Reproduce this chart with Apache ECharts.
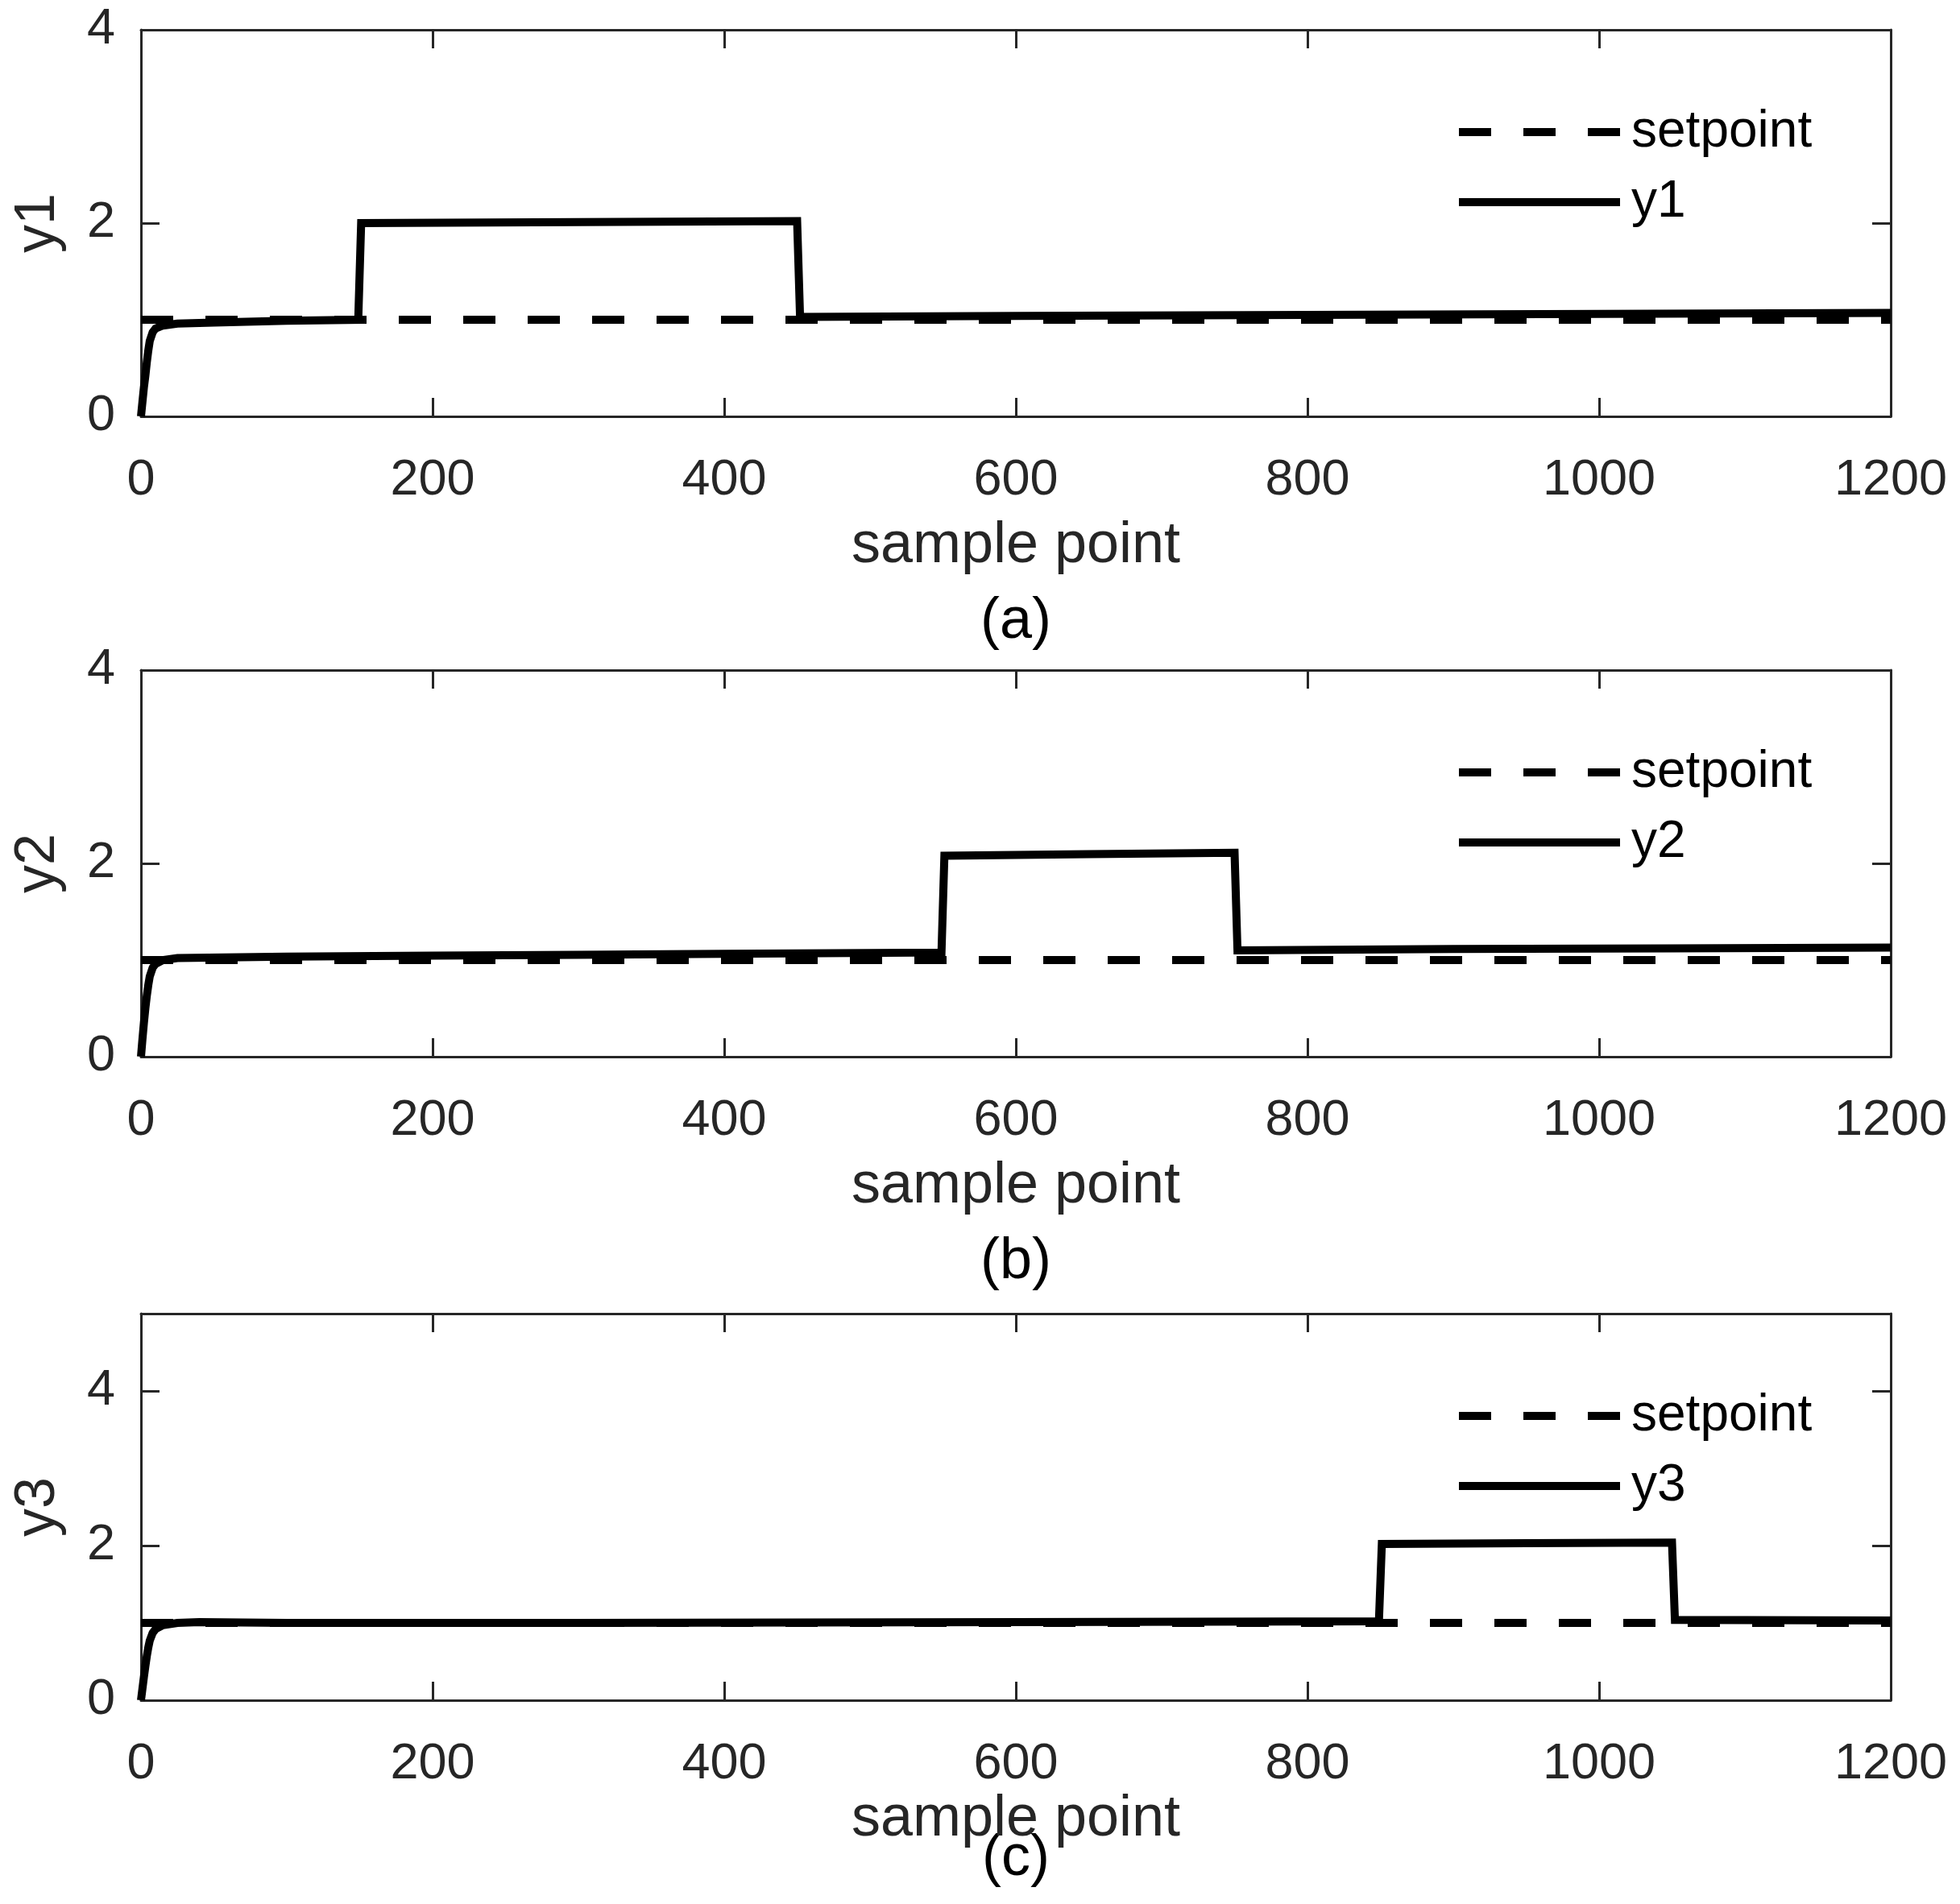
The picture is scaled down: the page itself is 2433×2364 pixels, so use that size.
<!DOCTYPE html>
<html>
<head>
<meta charset="utf-8">
<title>setpoint tracking</title>
<script src="https://cdn.jsdelivr.net/npm/echarts@6/dist/echarts.min.js"></script>
<style>
  html, body { margin: 0; padding: 0; background: #fff; }
  #main { width: 2433px; height: 2364px; }
</style>
</head>
<body>
<div id="main"></div>
<script>
// data
var xTicks = [0, 200, 400, 600, 800, 1000, 1200];
var yMax = [4, 4, 5];
var panelNames = ['y1', 'y2', 'y3'];
var captions = ['(a)', '(b)', '(c)'];

var setpointX = [0, 1200];
var setpointY = [1, 1];

var y1X = [0, 1, 2, 3, 4, 5, 6, 8, 10, 15, 25, 50, 100, 149, 151, 300, 450, 452, 600, 800, 1000, 1200];
var y1Y = [0, 0.15, 0.3, 0.42, 0.56, 0.68, 0.78, 0.87, 0.91, 0.94, 0.96, 0.97, 0.99, 1.0, 2.0, 2.01, 2.02, 1.03, 1.04, 1.05, 1.06, 1.07];

var y2X = [0, 1, 2, 3, 4, 5, 6, 8, 10, 15, 25, 100, 200, 300, 400, 549, 551, 650, 750, 752, 900, 1050, 1200];
var y2Y = [0, 0.18, 0.35, 0.5, 0.63, 0.74, 0.83, 0.92, 0.96, 1.0, 1.02, 1.035, 1.045, 1.055, 1.065, 1.078, 2.08, 2.095, 2.11, 1.10, 1.115, 1.12, 1.13];

var y3X = [0, 1, 2, 3, 4, 5, 6, 8, 10, 15, 25, 40, 100, 300, 600, 849, 851, 950, 1050, 1052, 1200];
var y3Y = [0, 0.15, 0.3, 0.44, 0.57, 0.68, 0.77, 0.87, 0.92, 0.97, 1.0, 1.01, 1.0, 1.0, 1.01, 1.02, 2.02, 2.03, 2.04, 1.04, 1.03];

var responseX = [y1X, y2X, y3X];
var responseY = [y1Y, y2Y, y3Y];

function pairs(xs, ys) {
    return xs.map(function (x, i) { return [x, ys[i]]; });
}

var FONT = 'Liberation Sans';
var AXIS_COLOR = '#262626';
var gridTops = [37, 832, 1631];
var xNameGaps = [125, 125, 103];
var captionY = [772, 1567, 2308];

function plain(v) { return String(v); }

function initOption() {
    var grids = [], xAxes = [], yAxes = [], series = [], legends = [], texts = [];
    var axisLine = { show: true, onZero: false, lineStyle: { color: AXIS_COLOR, width: 3 } };
    var axisTick = { show: true, inside: true, length: 23, lineStyle: { color: AXIS_COLOR, width: 3 } };

    for (var i = 0; i < 3; i++) {
        grids.push({ left: 175, right: 86, top: gridTops[i], height: 480, containLabel: false });

        // bottom + top x axes (box on)
        xAxes.push({
            type: 'value', gridIndex: i, position: 'bottom',
            min: xTicks[0], max: xTicks[xTicks.length - 1], interval: 200,
            axisLine: axisLine, axisTick: axisTick, splitLine: { show: false },
            axisLabel: { fontSize: 63, fontFamily: FONT, color: AXIS_COLOR, margin: 48, lineHeight: 63, formatter: plain },
            name: 'sample point', nameLocation: 'middle', nameGap: xNameGaps[i],
            nameTextStyle: { fontSize: 72, fontFamily: FONT, color: AXIS_COLOR, lineHeight: 72 }
        });
        xAxes.push({
            type: 'value', gridIndex: i, position: 'top',
            min: xTicks[0], max: xTicks[xTicks.length - 1], interval: 200,
            axisLine: axisLine, axisTick: axisTick, splitLine: { show: false },
            axisLabel: { show: false }
        });

        // left + right y axes
        yAxes.push({
            type: 'value', gridIndex: i, position: 'left',
            min: 0, max: yMax[i], interval: 2,
            axisLine: axisLine, axisTick: axisTick, splitLine: { show: false },
            axisLabel: {
                fontSize: 63, fontFamily: FONT, color: AXIS_COLOR, margin: 32, padding: [10, 0, 0, 0],
                formatter: plain, showMaxLabel: yMax[i] === 4
            },
            name: panelNames[i], nameLocation: 'middle', nameGap: 92,
            nameTextStyle: { fontSize: 70, fontFamily: FONT, color: AXIS_COLOR }
        });
        yAxes.push({
            type: 'value', gridIndex: i, position: 'right',
            min: 0, max: yMax[i], interval: 2,
            axisLine: axisLine, axisTick: axisTick, splitLine: { show: false },
            axisLabel: { show: false }
        });

        series.push({
            name: 'setpoint', type: 'line', xAxisIndex: 2 * i, yAxisIndex: 2 * i,
            data: pairs(setpointX, setpointY), symbol: 'none', silent: true,
            itemStyle: { color: '#000' },
            lineStyle: { color: '#000', width: 10, type: [40, 40], cap: 'butt' }
        });
        series.push({
            name: panelNames[i], type: 'line', xAxisIndex: 2 * i, yAxisIndex: 2 * i,
            data: pairs(responseX[i], responseY[i]), symbol: 'none', silent: true,
            itemStyle: { color: '#000' },
            lineStyle: { color: '#000', width: 10, type: 'solid', join: 'miter' }
        });

        legends.push({
            data: ['setpoint', panelNames[i]],
            orient: 'vertical', left: 1806, top: gridTops[i] + 95,
            padding: 0, itemWidth: 200, itemHeight: 40, itemGap: 23,
            selectedMode: false,
            itemStyle: { color: 'rgba(0,0,0,0)', borderColor: 'rgba(0,0,0,0)', borderWidth: 0, opacity: 0 },
            lineStyle: { width: 10, color: '#000' },
            textStyle: { fontSize: 64, fontFamily: FONT, color: '#000', padding: [0, 0, 0, 9] }
        });

        texts.push({
            type: 'text', x: 1261, y: captionY[i],
            style: { text: captions[i], font: '72px "Liberation Sans"', fill: '#000', align: 'center', verticalAlign: 'middle' }
        });
    }

    return {
        backgroundColor: '#fff',
        animation: false,
        grid: grids,
        xAxis: xAxes,
        yAxis: yAxes,
        legend: legends,
        series: series,
        graphic: texts
    };
}

var myChart = echarts.init(document.getElementById('main'));
myChart.setOption(initOption());
</script>
</body>
</html>
